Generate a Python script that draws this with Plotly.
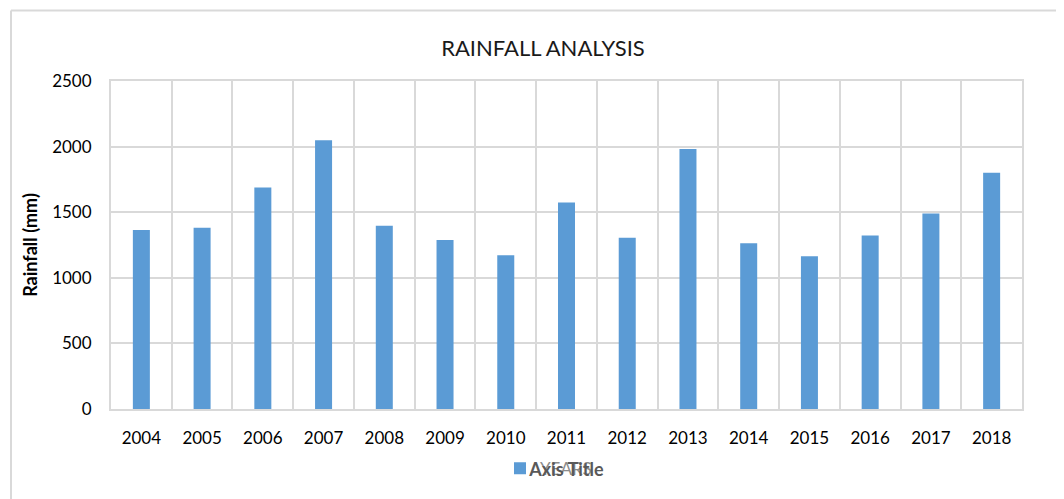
import plotly.graph_objects as go

years = ["2004", "2005", "2006", "2007", "2008", "2009", "2010", "2011",
         "2012", "2013", "2014", "2015", "2016", "2017", "2018"]
rainfall = [1364, 1381, 1689, 2048, 1396, 1288, 1172, 1573,
            1305, 1982, 1263, 1164, 1323, 1490, 1800]
y_ticks = [0, 500, 1000, 1500, 2000, 2500]

FONT = "Lato, Open Sans, sans-serif"
GRID = "#d9d9d9"

# page body adds ~8px offset; figure is sized/margined to compensate
W, H = 1056, 491
L, T, PW, PH = 103, 73, 911, 330

fig = go.Figure()
fig.add_trace(go.Bar(
    x=years, y=rainfall, name="YEARS",
    marker=dict(color="#5b9bd5", line=dict(width=0)),
    showlegend=True,
))

fig.update_layout(
    width=W, height=H,
    margin=dict(l=L, r=W - L - PW, t=T, b=H - T - PH),
    paper_bgcolor="white", plot_bgcolor="white",
    bargap=0.72,
    font=dict(family=FONT, size=17, color="#000000"),
    title=dict(text="RAINFALL ANALYSIS", x=535 / W, xanchor="center",
               y=1 - 40 / H, yanchor="middle",
               font=dict(family=FONT, size=22, color="#1a1a1a")),
    showlegend=True,
    legend=dict(orientation="h", x=(492 - L) / PW, xanchor="left",
                y=-60 / PH, yanchor="middle",
                font=dict(family=FONT, size=17, color="#8c8c8c"),
                bgcolor="rgba(0,0,0,0)"),
    xaxis=dict(
        type="category", range=[-0.5, 14.5],
        tickson="boundaries", showgrid=True, gridcolor=GRID, gridwidth=2,
        showline=True, linecolor=GRID, linewidth=2, mirror=True,
        ticks="", ticklabelstandoff=13,
        tickfont=dict(family=FONT, size=17, color="#000000"),
        title=dict(text="<b>Axis Title</b>", standoff=16,
                   font=dict(family=FONT, size=18, color="#595959")),
    ),
    yaxis=dict(
        range=[0, 2500], tickvals=y_ticks, showgrid=True,
        gridcolor=GRID, gridwidth=2, zeroline=False,
        showline=True, linecolor=GRID, linewidth=2, mirror=True,
        ticks="", ticklabelstandoff=14,
        tickfont=dict(family=FONT, size=17, color="#000000"),
        title=dict(text="<b>Rainfall (mm)</b>", standoff=10,
                   font=dict(family=FONT, size=18, color="#000000")),
    ),
)

# outer chart frame (left and top edges visible)
fx = (3 - L) / PW
fy = (T + PH - 2) / PH
fig.add_shape(type="line", xref="paper", yref="paper",
              x0=fx, x1=fx, y0=-0.5, y1=fy,
              line=dict(color=GRID, width=2))
fig.add_shape(type="line", xref="paper", yref="paper",
              x0=fx, x1=1.2, y0=fy, y1=fy,
              line=dict(color=GRID, width=2))

fig.write_html("out.html")
